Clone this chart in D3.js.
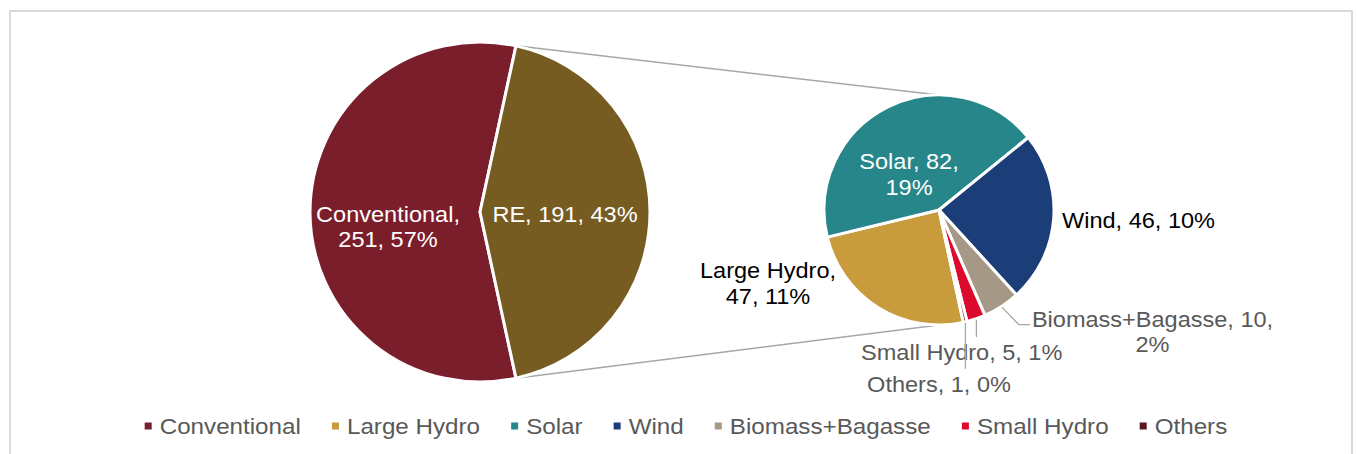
<!DOCTYPE html>
<html><head><meta charset="utf-8">
<script src="https://cdn.jsdelivr.net/npm/d3@7"></script>
<style>html,body{margin:0;padding:0;background:#fff;} svg{display:block;} text{font-family:"Liberation Sans",Arial,sans-serif;}</style>
</head><body><svg id="c" width="1357" height="454"></svg>
<script>
// ---- data ----
const mainCategories = ["Conventional", "RE"];
const mainValues = [251, 191];
const subCategories = ["Large Hydro", "Solar", "Wind", "Biomass+Bagasse", "Small Hydro", "Others"];
const subValues = [47, 82, 46, 10, 5, 1];
const legendLabels = ["Conventional", "Large Hydro", "Solar", "Wind", "Biomass+Bagasse", "Small Hydro", "Others"];

// ---- styles ----
const colorMap = {
  "Conventional": "#7B1E2B",
  "RE": "#775C22",
  "Large Hydro": "#C89B3C",
  "Solar": "#27868A",
  "Wind": "#1B3D78",
  "Biomass+Bagasse": "#A59886",
  "Small Hydro": "#DC0A2D",
  "Others": "#5A1A1E"
};
const FS = 22, SX = 1.07, LH = 25.6;
const total = d3.sum(mainValues);

const svg = d3.select("#c");
// chart frame
svg.append("rect").attr("x", 10).attr("y", 11).attr("width", 1342).attr("height", 470)
  .attr("fill", "none").attr("stroke", "#d9d9d9").attr("stroke-width", 2);

const main = {cx: 480, cy: 212, r: 170};
const sub = {cx: 939, cy: 210, r: 115};

const reSpan = 2 * Math.PI * mainValues[1] / total;
const start = Math.PI / 2 + reSpan / 2;

const mainPie = d3.pie().sort(null).startAngle(start).endAngle(start + 2 * Math.PI)(mainValues);
const subPie = d3.pie().sort(null).startAngle(start).endAngle(start + 2 * Math.PI)(subValues);

const pt = (c, a, r) => [c.cx + r * Math.sin(a), c.cy - r * Math.cos(a)];

// connector lines
const reArc = mainPie[1];
const conn = [
  [pt(main, reArc.startAngle, main.r), [sub.cx, sub.cy - sub.r]],
  [pt(main, reArc.endAngle, main.r), [sub.cx, sub.cy + sub.r]]
];
svg.selectAll("line.conn").data(conn).join("line").attr("class", "conn")
  .attr("x1", d => d[0][0]).attr("y1", d => d[0][1])
  .attr("x2", d => d[1][0]).attr("y2", d => d[1][1])
  .attr("stroke", "#a6a6a6").attr("stroke-width", 1.5);

const mainArc = d3.arc().innerRadius(0).outerRadius(main.r);
const subArc = d3.arc().innerRadius(0).outerRadius(sub.r);

svg.append("g").attr("transform", `translate(${main.cx},${main.cy})`)
  .selectAll("path").data(mainPie).join("path")
  .attr("d", mainArc).attr("fill", (d, i) => colorMap[mainCategories[i]])
  .attr("stroke", "#fff").attr("stroke-width", 3).attr("stroke-linejoin", "round");

svg.append("g").attr("transform", `translate(${sub.cx},${sub.cy})`)
  .selectAll("path").data(subPie).join("path")
  .attr("d", subArc).attr("fill", (d, i) => colorMap[subCategories[i]])
  .attr("stroke", "#fff").attr("stroke-width", 3).attr("stroke-linejoin", "round");

// ---- labels ----
// layout: offsets from the pie centre, line break position, colour, anchor
const labelLayout = {
  "Conventional":    {pie: main, dx: -92,  dy: 9.7,   brk: 1, color: "#fff",    anchor: "middle"},
  "RE":              {pie: main, dx: 85,   dy: 9.7,   brk: 0, color: "#fff",    anchor: "middle"},
  "Large Hydro":     {pie: sub,  dx: -171, dy: 68.3,  brk: 1, color: "#000",    anchor: "middle"},
  "Solar":           {pie: sub,  dx: -30,  dy: -40.7, brk: 2, color: "#fff",    anchor: "middle"},
  "Wind":            {pie: sub,  dx: 123,  dy: 18.3,  brk: 0, color: "#000",    anchor: "start"},
  "Biomass+Bagasse": {pie: sub,  dx: 213.5,dy: 116.7, brk: 2, color: "#595959", anchor: "middle", leader: "elbow"},
  "Small Hydro":     {pie: sub,  dx: 22.7, dy: 150,   brk: 0, color: "#595959", anchor: "middle", leader: "vertical"},
  "Others":          {pie: sub,  dx: 0,    dy: 181.7, brk: 0, color: "#595959", anchor: "middle", leader: "vertical"}
};

function labelLines(name, v, brk) {
  const parts = [name, String(v), Math.round(v / total * 100) + "%"];
  if (!brk) return [parts.join(", ")];
  return [parts.slice(0, brk).join(", ") + ",", parts.slice(brk).join(", ")];
}

const labelG = svg.append("g");
const leaderG = svg.append("g");
function drawLabel(name, v, arcD) {
  const L = labelLayout[name];
  const x = L.pie.cx + L.dx, y = L.pie.cy + L.dy;
  const lines = labelLines(name, v, L.brk);
  const t = labelG.append("text")
    .attr("transform", `translate(${x},${y}) scale(${SX},1)`)
    .attr("text-anchor", L.anchor).attr("font-size", FS).attr("fill", L.color);
  lines.forEach((s, i) => t.append("tspan").attr("x", 0).attr("y", i * LH).text(s));
  if (L.leader) {
    const mid = (arcD.startAngle + arcD.endAngle) / 2;
    const p0 = pt(L.pie, mid, L.pie.r + 1);
    let pts;
    if (L.leader === "vertical") {
      pts = [p0, [p0[0], y - 23]];
    } else {
      const w = t.node().getBBox().width * SX;
      const left = x - w / 2;
      pts = [p0, [left - 13, y - 2], [left - 2, y - 2]];
    }
    leaderG.append("path").attr("d", d3.line()(pts)).attr("fill", "none")
      .attr("stroke", "#a6a6a6").attr("stroke-width", 1.3);
  }
}
mainPie.forEach((d, i) => drawLabel(mainCategories[i], mainValues[i], d));
subPie.forEach((d, i) => drawLabel(subCategories[i], subValues[i], d));

// ---- legend ----
const legendG = svg.append("g");
const legendY = 426, mk = 7, gapText = 15, gapItem = 31, LSX = 1.1;
const items = legendLabels.map(name => {
  const g = legendG.append("g");
  g.append("rect").attr("width", mk).attr("height", mk).attr("y", legendY - mk / 2)
    .attr("fill", colorMap[name]);
  const t = g.append("text").attr("font-size", FS).attr("fill", "#595959").text(name);
  const w = t.node().getComputedTextLength() * LSX;
  return {g, t, w};
});
const totalW = d3.sum(items, d => gapText + d.w) + gapItem * (items.length - 1);
let x = 686 - totalW / 2;
items.forEach(it => {
  it.g.select("rect").attr("x", x);
  it.t.attr("transform", `translate(${x + gapText},${legendY + 8}) scale(${LSX},1)`);
  x += gapText + it.w + gapItem;
});
</script></body></html>
